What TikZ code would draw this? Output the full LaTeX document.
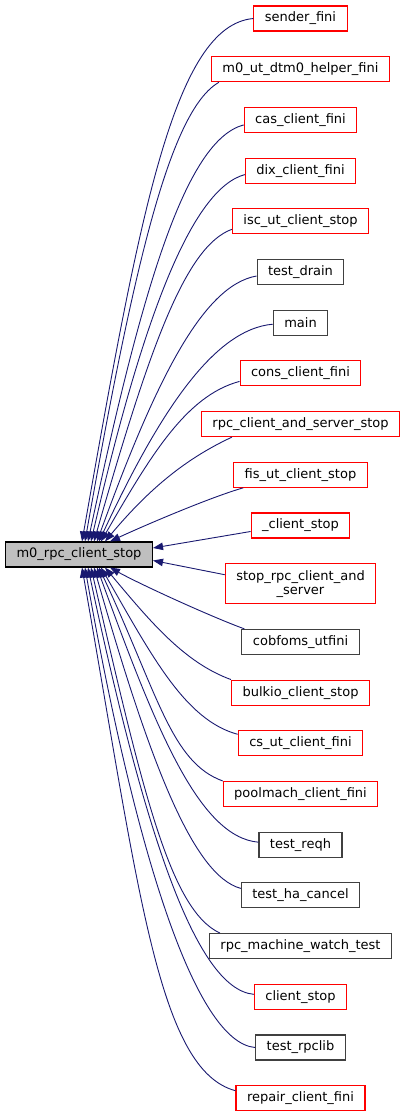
\documentclass[tikz,border=0pt]{standalone}
\usepackage{fontspec}
\setmainfont{DejaVu Sans}
\usepackage{tikz}
\usetikzlibrary{arrows.meta, positioning}
\definecolor{edgeblue}{HTML}{191970}
\definecolor{fnred}{HTML}{FF0000}
\definecolor{fngrey}{HTML}{404040}
\tikzset{
    fn/.style={rectangle, minimum height=25pt, inner xsep=11pt, inner ysep=4pt, align=center, line width=1.1pt, font=\fontsize{13}{14}\selectfont},
    linked/.style={fn, draw=fnred},
    unlinked/.style={fn, draw=fngrey},
    focus/.style={fn, draw=black, fill=black!25},
    arrow/.style={draw=edgeblue, line width=0.9pt, -{Triangle[length=10pt, width=7.5pt]}}
}

\begin{document}
\begin{tikzpicture}[node distance=24.6pt]
    \useasboundingbox (0,0) rectangle (405pt,-1117pt);
    \node (stop) [focus] at (79pt,-554.5pt) {m0\_rpc\_client\_stop};

    \node (sender) [linked] at (300.5pt,-18.5pt) {sender\_fini};
    \node (dtmfini) [linked, below=of sender] {m0\_ut\_dtm0\_helper\_fini};
    \node (casfini) [linked, below=of dtmfini] {cas\_client\_fini};
    \node (dixfini) [linked, below=of casfini] {dix\_client\_fini};
    \node (iscstop) [linked, below=of dixfini] {isc\_ut\_client\_stop};
    \node (drain) [unlinked, below=of iscstop] {test\_drain};
    \node (mainfn) [unlinked, below=of drain] {main};
    \node (consfini) [linked, below=of mainfn] {cons\_client\_fini};
    \node (rpcstop) [linked, below=of consfini] {rpc\_client\_and\_server\_stop};
    \node (fisstop) [linked, below=of rpcstop] {fis\_ut\_client\_stop};
    \node (clstop) [linked, below=of fisstop] {\_client\_stop};
    \node (stoprpc) [linked, below=of clstop, minimum height=40pt] {stop\_rpc\_client\_and\\\_server};
    \node (cobfoms) [unlinked, below=of stoprpc] {cobfoms\_utfini};
    \node (bulkio) [linked, below=of cobfoms] {bulkio\_client\_stop};
    \node (csfini) [linked, below=of bulkio] {cs\_ut\_client\_fini};
    \node (poolmach) [linked, below=of csfini] {poolmach\_client\_fini};
    \node (reqh) [unlinked, below=of poolmach] {test\_reqh};
    \node (hacancel) [unlinked, below=of reqh] {test\_ha\_cancel};
    \node (watchtest) [unlinked, below=of hacancel] {rpc\_machine\_watch\_test};
    \node (clientstop) [linked, below=of watchtest] {client\_stop};
    \node (rpclib) [unlinked, below=of clientstop] {test\_rpclib};
    \node (repair) [linked, below=of rpclib] {repair\_client\_fini};

    % callers above
    \draw [arrow] (sender.west) to[out=185, in=80, out distance=80pt, in distance=330pt] ([xshift=3pt]stop.north);
    \draw [arrow] ([xshift=8pt]dtmfini.south west) to[out=210, in=80, out distance=55pt, in distance=290pt] ([xshift=6pt]stop.north);
    \draw [arrow] ([yshift=-5pt]casfini.west) to[out=195, in=78, out distance=60pt, in distance=260pt] ([xshift=9pt]stop.north);
    \draw [arrow] ([yshift=-4pt]dixfini.west) to[out=195, in=77, out distance=55pt, in distance=230pt] ([xshift=12pt]stop.north);
    \draw [arrow] ([yshift=-8pt]iscstop.west) to[out=200, in=74, out distance=50pt, in distance=200pt] ([xshift=15pt]stop.north);
    \draw [arrow] ([yshift=-4pt]drain.west) to[out=190, in=70, out distance=55pt, in distance=170pt] ([xshift=18pt]stop.north);
    \draw [arrow] ([yshift=-1.5pt]mainfn.west) to[out=185, in=65, out distance=60pt, in distance=140pt] ([xshift=20pt]stop.north);
    \draw [arrow] ([yshift=-8pt]consfini.west) to[out=195, in=60, out distance=55pt, in distance=100pt] ([xshift=22pt]stop.north);
    \draw [arrow] ([xshift=31pt]rpcstop.south west) to[out=205, in=50, out distance=50pt, in distance=70pt] ([xshift=26pt]stop.north);
    \draw [arrow] ([xshift=10pt]fisstop.south west) to[out=196, in=25, out distance=35pt, in distance=35pt] ([xshift=31pt]stop.north);
    \draw [arrow] ([yshift=-6pt]clstop.west) -- ([yshift=6.5pt]stop.east);
    % callers below
    \draw [arrow] ([yshift=9pt]stoprpc.west) -- ([yshift=-6pt]stop.east);
    \draw [arrow] ([xshift=3pt]cobfoms.north west) to[out=160, in=-29, out distance=35pt, in distance=35pt] ([xshift=31pt]stop.south);
    \draw [arrow] (bulkio.north west) to[out=160, in=-50, out distance=50pt, in distance=70pt] ([xshift=26pt]stop.south);
    \draw [arrow] ([yshift=9pt]csfini.west) to[out=165, in=-60, out distance=55pt, in distance=100pt] ([xshift=22pt]stop.south);
    \draw [arrow] (poolmach.north west) to[out=160, in=-65, out distance=55pt, in distance=140pt] ([xshift=20pt]stop.south);
    \draw [arrow] ([yshift=2.5pt]reqh.west) to[out=175, in=-70, out distance=60pt, in distance=170pt] ([xshift=18pt]stop.south);
    \draw [arrow] ([yshift=7pt]hacancel.west) to[out=165, in=-74, out distance=50pt, in distance=200pt] ([xshift=15pt]stop.south);
    \draw [arrow] ([xshift=11pt]watchtest.north west) to[out=155, in=-77, out distance=55pt, in distance=230pt] ([xshift=12pt]stop.south);
    \draw [arrow] ([yshift=2.5pt]clientstop.west) to[out=175, in=-78, out distance=60pt, in distance=260pt] ([xshift=9pt]stop.south);
    \draw [arrow] (rpclib.west) to[out=175, in=-80, out distance=60pt, in distance=290pt] ([xshift=6pt]stop.south);
    \draw [arrow] ([yshift=7.5pt]repair.west) to[out=165, in=-80, out distance=80pt, in distance=330pt] ([xshift=3pt]stop.south);
\end{tikzpicture}
\end{document}
